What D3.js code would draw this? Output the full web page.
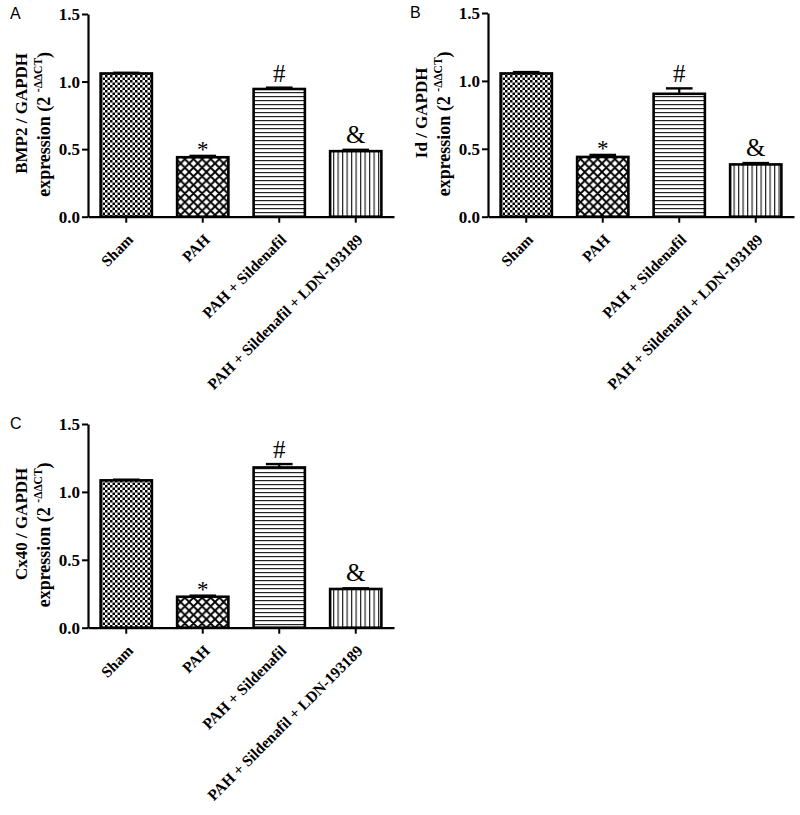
<!DOCTYPE html>
<html>
<head>
<meta charset="utf-8">
<script src="https://cdn.jsdelivr.net/npm/d3@7"></script>
<style>
  html, body { margin: 0; padding: 0; background: #fff; }
  svg { display: block; }
</style>
</head>
<body>
<svg id="chart" width="800" height="815"></svg>
<script>
// ---- data ----
const categories = ["Sham", "PAH", "PAH + Sildenafil", "PAH + Sildenafil + LDN-193189"];
const bmp2Values = [1.06, 0.44, 0.945, 0.485];
const bmp2Errors = [0.005, 0.01, 0.01, 0.01];
const idValues = [1.055, 0.44, 0.905, 0.385];
const idErrors = [0.01, 0.015, 0.04, 0.01];
const cx40Values = [1.085, 0.228, 1.18, 0.285];
const cx40Errors = [0.005, 0.008, 0.025, 0.005];
const sigMarks = ["", "*", "#", "&"];
const yTicks = [0, 0.5, 1.0, 1.5];
const panelLetters = ["A", "B", "C"];
const panelTitles = ["BMP2 / GAPDH", "Id / GAPDH", "Cx40 / GAPDH"];
const patternIds = ["checker", "diamond", "hlines", "vlines"];

const svg = d3.select("#chart");
const defs = svg.append("defs");

// checkerboard
const pc = defs.append("pattern").attr("id", "checker").attr("patternUnits", "userSpaceOnUse")
  .attr("width", 5).attr("height", 5);
pc.append("rect").attr("width", 5).attr("height", 5).attr("fill", "#fff");
pc.append("rect").attr("x", 0).attr("y", 0).attr("width", 2.5).attr("height", 2.5).attr("fill", "#000");
pc.append("rect").attr("x", 2.5).attr("y", 2.5).attr("width", 2.5).attr("height", 2.5).attr("fill", "#000");
// diamond crosshatch
const P = 8.6;
const pd = defs.append("pattern").attr("id", "diamond").attr("patternUnits", "userSpaceOnUse")
  .attr("width", P).attr("height", P);
pd.append("rect").attr("width", P).attr("height", P).attr("fill", "#fff");
pd.append("path")
  .attr("d", `M${-P},${-P}L${2*P},${2*P}M${2*P},${-P}L${-P},${2*P}M0,${-P}L${2*P},${P}M${-P},0L${P},${2*P}M${P},${-P}L${-P},${P}M${2*P},0L0,${2*P}`)
  .attr("stroke", "#000").attr("stroke-width", 1.9);
// horizontal lines
const ph = defs.append("pattern").attr("id", "hlines").attr("patternUnits", "userSpaceOnUse")
  .attr("width", 4).attr("height", 4);
ph.append("rect").attr("width", 4).attr("height", 4).attr("fill", "#fff");
ph.append("rect").attr("x", 0).attr("y", 0).attr("width", 4).attr("height", 1.2).attr("fill", "#222");
// vertical lines
const pv = defs.append("pattern").attr("id", "vlines").attr("patternUnits", "userSpaceOnUse")
  .attr("width", 4.5).attr("height", 4.5);
pv.append("rect").attr("width", 4.5).attr("height", 4.5).attr("fill", "#fff");
pv.append("rect").attr("x", 0).attr("y", 0).attr("width", 1.2).attr("height", 4.5).attr("fill", "#222");

const serif = "'Liberation Serif', 'Times New Roman', serif";
const sans = "'Liberation Sans', Arial, sans-serif";

function drawPanel(idx, values, errors, ox, oyTop, oyBottom) {
  const g = svg.append("g");
  const axisX = ox;
  const x = d3.scaleBand().domain(categories).range([axisX, axisX + 306])
    .paddingInner(0.33).paddingOuter(0.165);
  const y = d3.scaleLinear().domain([0, 1.5]).range([oyBottom, oyTop]);

  // bars
  g.selectAll("rect.bar").data(values).enter().append("rect")
    .attr("class", "bar")
    .attr("x", (d, i) => x(categories[i]))
    .attr("width", x.bandwidth())
    .attr("y", d => y(d))
    .attr("height", d => y(0) - y(d))
    .attr("fill", (d, i) => `url(#${patternIds[i]})`)
    .attr("stroke", "#000").attr("stroke-width", 2.6);

  // error bars (upper only)
  const cap = x.bandwidth() * 0.52;
  values.forEach((v, i) => {
    const cx = x(categories[i]) + x.bandwidth() / 2;
    const top = y(v + errors[i]);
    g.append("line").attr("x1", cx).attr("x2", cx).attr("y1", y(v)).attr("y2", top)
      .attr("stroke", "#000").attr("stroke-width", 2.2);
    g.append("line").attr("x1", cx - cap / 2).attr("x2", cx + cap / 2).attr("y1", top).attr("y2", top)
      .attr("stroke", "#000").attr("stroke-width", 2.4);
    if (sigMarks[i]) {
      const m = sigMarks[i];
      const t = g.append("text").attr("x", cx).attr("text-anchor", "middle")
        .attr("font-family", serif).attr("fill", "#000").text(m);
      if (m === "*") t.attr("y", top + 1).attr("font-size", 23);
      else if (m === "#") t.attr("y", top - 6).attr("font-size", 25);
      else t.attr("y", top - 7).attr("font-size", 25);
    }
  });

  // y axis
  const ya = g.append("g").attr("transform", `translate(${axisX},0)`)
    .call(d3.axisLeft(y).tickValues(yTicks).tickFormat(d3.format(".1f")).tickSize(6).tickSizeOuter(0).tickPadding(2));
  ya.select(".domain").attr("stroke-width", 2.2);
  ya.selectAll(".tick line").attr("stroke-width", 2);
  ya.selectAll(".tick text").attr("font-family", serif).attr("font-weight", "bold")
    .attr("font-size", 17).attr("fill", "#000");

  // x axis
  const xa = g.append("g").attr("transform", `translate(0,${y(0)})`)
    .call(d3.axisBottom(x).tickSize(6).tickSizeOuter(0));
  xa.select(".domain").attr("stroke-width", 2.2);
  xa.selectAll(".tick line").attr("stroke-width", 2);
  xa.selectAll(".tick text")
    .attr("font-family", serif).attr("font-weight", "bold").attr("font-size", 15.5).attr("fill", "#000")
    .attr("text-anchor", "end").attr("x", 0).attr("y", 0).attr("dy", 0)
    .attr("transform", "translate(8,24) rotate(-45)");

  // y title
  const midY = (oyTop + oyBottom) / 2;
  g.append("text")
    .attr("transform", `translate(${axisX - 61},${midY - 2}) rotate(-90)`)
    .attr("text-anchor", "middle").attr("font-family", serif).attr("font-weight", "bold")
    .attr("font-size", 17).attr("fill", "#000").text(panelTitles[idx]);
  const t2 = g.append("text")
    .attr("transform", `translate(${axisX - 38},${midY + 9}) rotate(-90)`)
    .attr("text-anchor", "middle").attr("font-family", serif).attr("font-weight", "bold")
    .attr("font-size", 18).attr("fill", "#000");
  t2.append("tspan").text("expression (2 ");
  t2.append("tspan").attr("font-size", 11.5).attr("dy", -8).text("-ΔΔCT");
  t2.append("tspan").attr("dy", 8).text(")");

  // panel letter
  g.append("text").attr("x", axisX - 78).attr("y", oyTop + 5)
    .attr("font-family", sans).attr("font-size", 16).attr("fill", "#000").text(panelLetters[idx]);
}

drawPanel(0, bmp2Values, bmp2Errors, 88, 14, 216.7);
drawPanel(1, idValues, idErrors, 488, 13, 216.7);
drawPanel(2, cx40Values, cx40Errors, 88, 424, 627.7);
</script>
</body>
</html>
